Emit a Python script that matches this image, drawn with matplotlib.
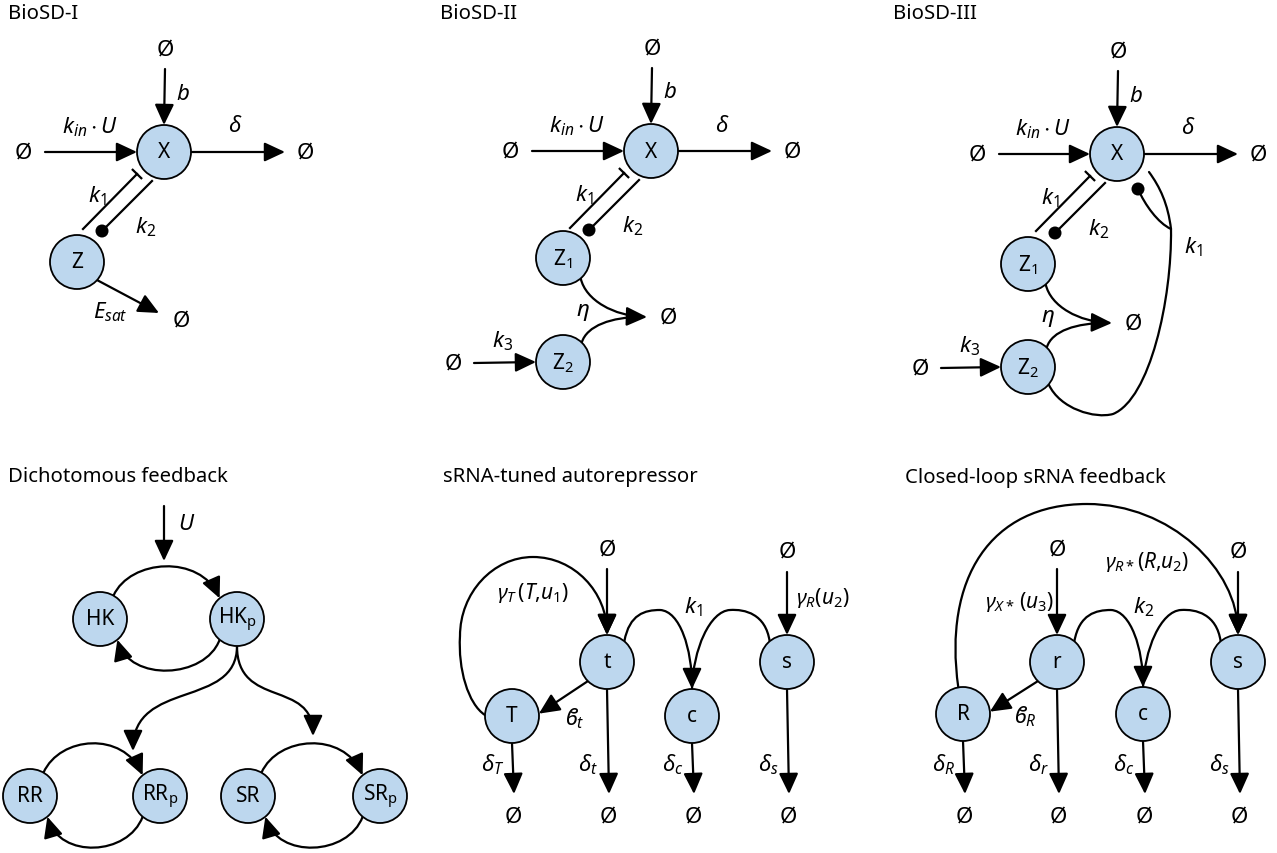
import numpy as np
import matplotlib.pyplot as plt
from matplotlib.patches import Circle, FancyArrowPatch
from matplotlib.path import Path

plt.rcParams['font.family'] = ['Noto Sans', 'DejaVu Sans']
plt.rcParams['mathtext.fontset'] = 'custom'
plt.rcParams['mathtext.it'] = 'Noto Sans:italic'
plt.rcParams['mathtext.rm'] = 'Noto Sans'
plt.rcParams['mathtext.fallback'] = 'stixsans'

# panel titles
titles = ["BioSD-I", "BioSD-II", "BioSD-III",
          "Dichotomous feedback", "sRNA-tuned autorepressor", "Closed-loop sRNA feedback"]
title_xy = [(8, 14), (440, 14), (893, 14), (8, 477), (443, 477), (905, 478)]

# species of each panel: name -> centre (pixels)
bio1 = {"X": (164, 153), "Z": (77, 263)}
bio2 = {"X": (651, 152), "Z1": (563, 259), "Z2": (563, 363)}
bio3 = {"X": (1117, 155), "Z1": (1028, 265), "Z2": (1028, 368)}
dicho = {"HK": (100, 620), "HKp": (237, 620), "RR": (30, 797), "RRp": (160, 797),
         "SR": (248, 797), "SRp": (380, 797)}
auto = {"t": (607, 663), "T": (512, 717), "c": (692, 717), "s": (787, 663)}
closed = {"r": (1057, 663), "R": (963, 715), "c": (1143, 715), "s": (1238, 663)}

node_text = {"X": "X", "Z": "Z", "Z1": "Z$_1$", "Z2": "Z$_2$", "HK": "HK", "HKp": "HK$_\\mathrm{p}$",
             "RR": "RR", "RRp": "RR$_\\mathrm{p}$", "SR": "SR", "SRp": "SR$_\\mathrm{p}$",
             "t": "t", "T": "T", "c": "c", "s": "s", "r": "r", "R": "R"}

# decay labels in the two sRNA panels
auto_decay = [("T", r"$\delta_T$"), ("t", r"$\delta_t$"), ("c", r"$\delta_c$"), ("s", r"$\delta_s$")]
closed_decay = [("R", r"$\delta_R$"), ("r", r"$\delta_r$"), ("c", r"$\delta_c$"), ("s", r"$\delta_s$")]

RAD = 27
FILL = "#BDD7EE"
LW = 1.6
HEAD = "-|>,head_length=0.9,head_width=0.42"
EMPTY = "\u00d8"

fig = plt.figure(figsize=(12.77, 8.54), dpi=100)
ax = fig.add_axes([0, 0, 1, 1])
ax.set_xlim(0, 1277)
ax.set_ylim(854, 0)
ax.axis("off")


def bd(c, ang, extra=0):
    r = RAD + extra
    a = np.deg2rad(ang)
    return (c[0] + r * np.cos(a), c[1] - r * np.sin(a))


def txt(x, y, s, size=16, **kw):
    ax.text(x, y, s, ha="center", va="center", fontsize=size, zorder=5, **kw)


def nodes(d):
    for k, c in d.items():
        ax.add_patch(Circle(c, RAD, fc=FILL, ec="black", lw=1.3, zorder=3))
        txt(c[0], c[1], node_text[k], size=15)


def arrow(p0, p1, head=True):
    ax.add_patch(FancyArrowPatch(p0, p1, arrowstyle=HEAD if head else "-", mutation_scale=14,
                                 shrinkA=0, shrinkB=0, lw=LW, color="black", zorder=2))


def curve(pts, head=True):
    codes = [Path.MOVETO] + [Path.CURVE4] * (len(pts) - 1)
    ax.add_patch(FancyArrowPatch(path=Path(pts, codes), arrowstyle=HEAD if head else "-",
                                 mutation_scale=14, lw=LW, color="black", zorder=2))


def dot(p):
    ax.add_patch(Circle(p, 6.5, fc="black", ec="none", zorder=3))


def pair(X):
    # k1 repression line with bar, k2 line with dot
    a = (X[0] - 81, X[1] + 77)
    b = (X[0] - 27, X[1] + 22)
    ax.plot([a[0], b[0]], [a[1], b[1]], color="black", lw=LW, zorder=2)
    d = np.array(b) - np.array(a)
    n = np.array([-d[1], d[0]]) / np.hypot(*d) * 6
    ax.plot([b[0] - n[0], b[0] + n[0]], [b[1] - n[1], b[1] + n[1]], color="black", lw=LW, zorder=2)
    e = (X[0] - 12, X[1] + 29)
    f = (X[0] - 62, X[1] + 79)
    ax.plot([e[0], f[0]], [e[1], f[1]], color="black", lw=LW, zorder=2)
    dot(f)
    txt(X[0] - 67, X[1] + 43, r"$k_1$")
    txt(X[0] - 18, X[1] + 74, r"$k_2$")


def source_and_outflow(X, left):
    txt(X[0] + 1, X[1] - 103, EMPTY)
    arrow((X[0] + 1, X[1] - 83), bd(X, 90))
    txt(X[0] + 19, X[1] - 59, r"$b$")
    txt(left, X[1], EMPTY)
    arrow((left + 22, X[1]), bd(X, 180))
    txt(X[0] - 74, X[1] - 26, r"$k_{in}\cdot U$")
    arrow(bd(X, 0), (X[0] + 121, X[1]))
    txt(X[0] + 141, X[1], EMPTY)
    txt(X[0] + 71, X[1] - 26, r"$\delta$")


def cycle(A, B):
    curve([bd(A, 60), (A[0] + 30, A[1] - 60), (B[0] - 37, B[1] - 65), bd(B, 130)])
    curve([bd(B, -130), (B[0] - 32, B[1] + 60), (A[0] + 30, A[1] + 63), bd(A, -50)])


for s, (x, y) in zip(titles, title_xy):
    ax.text(x, y, s, ha="left", va="center", fontsize=14.6)

# ---- BioSD-I
X, Z = bio1["X"], bio1["Z"]
source_and_outflow(X, 23)
pair(X)
arrow(bd(Z, -42), (159, 314))
txt(181, 321, EMPTY)
txt(110, 312, r"$E_{sat}$")
nodes(bio1)

# ---- BioSD-II and III
for d, left, zl in [(bio2, 510, 453), (bio3, 977, 920)]:
    X, Z1, Z2 = d["X"], d["Z1"], d["Z2"]
    source_and_outflow(X, left)
    pair(X)
    txt(zl, Z2[1] + 1, EMPTY)
    arrow((zl + 21, Z2[1] + 1), bd(Z2, 180))
    txt(zl + 50, Z2[1] - 22, r"$k_3$")
    tip = (Z1[0] + 84, Z1[1] + 59)
    p0 = bd(Z1, -49)
    curve([p0, (p0[0] + 5, p0[1] + 22), (tip[0] - 33, tip[1] - 1), tip])
    p1 = bd(Z2, 46)
    curve([p1, (p1[0] + 5, p1[1] - 17), (tip[0] - 35, tip[1]), (tip[0] - 6, tip[1])], head=False)
    txt(tip[0] + 21, tip[1], EMPTY)
    txt(Z1[0] + 20, Z1[1] + 54, r"$\eta$")
    nodes(d)

X, Z2 = bio3["X"], bio3["Z2"]
p = bd(Z2, -40)
curve([p, (1060, 410), (1095, 420), (1113, 415), (1150, 400), (1172, 300), (1171, 230)], head=False)
curve([(1171, 230), (1168, 205), (1160, 188), (1149, 173)], head=False)
curve([(1171, 230), (1158, 224), (1145, 206), (1138, 190)], head=False)
dot((1138, 190))
txt(1193, 247, r"$k_1$")

# ---- Dichotomous feedback
arrow((164, 507), (164, 562))
txt(187, 525, r"$U$")
cycle(dicho["HK"], dicho["HKp"])
cycle(dicho["RR"], dicho["RRp"])
cycle(dicho["SR"], dicho["SRp"])
h = bd(dicho["HKp"], -90)
curve([h, (h[0], 710), (133, 680), (133, 752)])
curve([h, (h[0], 710), (313, 680), (313, 737)])
nodes(dicho)


# ---- sRNA panels
def srna(d, names, decay, lab_k, lab_beta):
    a, A, c, s = [d[n] for n in names]
    txt(a[0], 550, EMPTY)
    arrow((a[0], 570), bd(a, 90))
    txt(s[0], 552, EMPTY)
    arrow((s[0], 573), bd(s, 90))
    p0 = bd(a, 50)
    curve([p0, (p0[0] + 5, 615), (c[0] - 47, 611), (c[0] - 32, 611),
           (c[0] - 12, 612), (c[0], 650), bd(c, 90)])
    p1 = bd(s, 130)
    curve([p1, (p1[0] - 4, 615), (c[0] + 53, 610), (c[0] + 38, 611),
           (c[0] + 18, 612), (c[0] + 1, 650), (c[0], 690)], head=False)
    txt((a[0] + s[0]) / 2 - 4, 607, lab_k)
    arrow(bd(a, -135), bd(A, 5))
    txt(A[0] + 62, A[1] + 2, lab_beta)
    for n, lab in decay:
        q = d[n]
        arrow(bd(q, -90), (q[0] + 2, 795))
        txt(q[0] + 1, 817, EMPTY)
        txt(q[0] - 19, 765, lab)


srna(auto, ["t", "T", "c", "s"], auto_decay, r"$k_1$", "$\u03d0_t$")
T, t = auto["T"], auto["t"]
curve([bd(T, 178), (468, 705), (458, 670), (460, 637), (460, 594), (493, 558), (533, 558),
       (574, 558), (t[0], 593), bd(t, 90)])
txt(533, 593, r"$\gamma_T\,(T{,}u_1)$", size=15)
txt(823, 598, r"$\gamma_R(u_2)$", size=15)
nodes(auto)

srna(closed, ["r", "R", "c", "s"], closed_decay, r"$k_2$", "$\u03d0_R$")
R, s = closed["R"], closed["s"]
curve([bd(R, 100), (943, 580), (990, 505), (1087, 505), (1170, 505), (s[0], 570), bd(s, 90)])
txt(1020, 602, r"$\gamma_{X*}\,(u_3)$", size=15)
txt(1147, 562, r"$\gamma_{R*}(R{,}u_2)$", size=15)
nodes(closed)

fig.savefig("out.png", dpi=100)
